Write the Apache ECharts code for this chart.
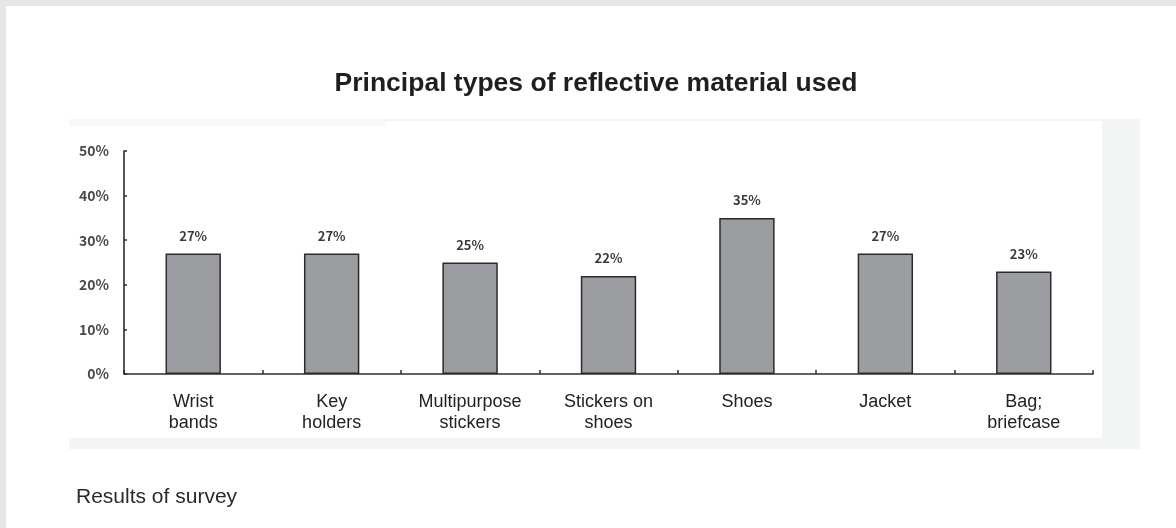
<!DOCTYPE html>
<html>
<head>
<meta charset="utf-8">
<title>Principal types of reflective material used</title>
<script src="https://cdn.jsdelivr.net/npm/echarts@6/dist/echarts.min.js"></script>
<style>
  html, body { margin: 0; padding: 0; background: #ffffff; }
  #chart { width: 1176px; height: 528px; }
</style>
</head>
<body>
<div id="chart"></div>
<script>
// Survey data: share of respondents using each type of reflective material
const categories = [
  'Wrist\nbands',
  'Key\nholders',
  'Multipurpose\nstickers',
  'Stickers on\nshoes',
  'Shoes',
  'Jacket',
  'Bag;\nbriefcase'
];
const shares = [27, 27, 25, 22, 35, 27, 23];
const yTicks = [0, 10, 20, 30, 40, 50];

const titleText = 'Principal types of reflective material used';
const captionText = 'Results of survey';

const sansFont = '"Liberation Sans", Arial, Helvetica, sans-serif';
const koFont = '"Noto Sans CJK KR", "Noto Sans", sans-serif';
const axisColor = '#2e2e2e';

const chart = echarts.init(document.getElementById('chart'));

chart.setOption({
  animation: false,
  backgroundColor: '#ffffff',
  title: [
    {
      text: titleText,
      left: 591,
      top: 65,
      textAlign: 'center',
      textStyle: { fontFamily: sansFont, fontSize: 26.5, fontWeight: 'bold', color: '#1f1f1f' }
    },
    {
      text: captionText,
      left: 71,
      top: 482,
      textStyle: { fontFamily: sansFont, fontSize: 21, fontWeight: 'normal', color: '#2a2a2a' }
    }
  ],
  graphic: [
    // page frame strips
    { type: 'rect', z: -10, silent: true, shape: { x: 0, y: 0, width: 1176, height: 6 }, style: { fill: '#e5e6e8' } },
    { type: 'rect', z: -10, silent: true, shape: { x: 0, y: 0, width: 6, height: 528 }, style: { fill: '#e5e6e8' } },
    // chart panel
    { type: 'rect', z: -9, silent: true, shape: { x: 69, y: 119, width: 1071, height: 330 }, style: { fill: '#f3f4f4' } },
    { type: 'rect', z: -8, silent: true, shape: { x: 69, y: 121, width: 1033, height: 317 }, style: { fill: '#ffffff' } },
    { type: 'rect', z: -8, silent: true, shape: { x: 69, y: 119, width: 316, height: 7 }, style: { fill: '#f8f8f8' } }
  ],
  grid: {
    left: 124,
    right: 83,
    top: 151,
    bottom: 154,
    containLabel: false
  },
  xAxis: {
    type: 'category',
    data: categories,
    boundaryGap: true,
    axisLine: { show: true, lineStyle: { color: axisColor, width: 1.6 } },
    axisTick: { show: true, inside: true, length: 4, interval: 0, lineStyle: { color: axisColor, width: 1.5 } },
    axisLabel: {
      interval: 0,
      margin: 18,
      fontFamily: sansFont,
      fontSize: 18,
      lineHeight: 21,
      color: '#222222'
    },
    splitLine: { show: false }
  },
  yAxis: {
    type: 'value',
    min: yTicks[0],
    max: yTicks[yTicks.length - 1],
    interval: 10,
    axisLine: { show: true, lineStyle: { color: axisColor, width: 1.6 } },
    axisTick: { show: true, inside: true, length: 3, lineStyle: { color: axisColor, width: 1.5 } },
    axisLabel: {
      margin: 15,
      fontFamily: koFont,
      fontSize: 14,
      fontWeight: 'bold',
      color: '#4a4a4a',
      formatter: v => v + '%'
    },
    splitLine: { show: false }
  },
  series: [
    {
      type: 'bar',
      data: shares,
      barWidth: '40%',
      itemStyle: { color: '#9c9da0', borderColor: '#2b2b2b', borderWidth: 1.5 },
      label: {
        show: true,
        position: 'top',
        distance: 11,
        fontFamily: koFont,
        fontSize: 13,
        fontWeight: 'bold',
        color: '#3a3a3a',
        formatter: p => p.value + '%'
      }
    }
  ]
});
</script>
</body>
</html>
